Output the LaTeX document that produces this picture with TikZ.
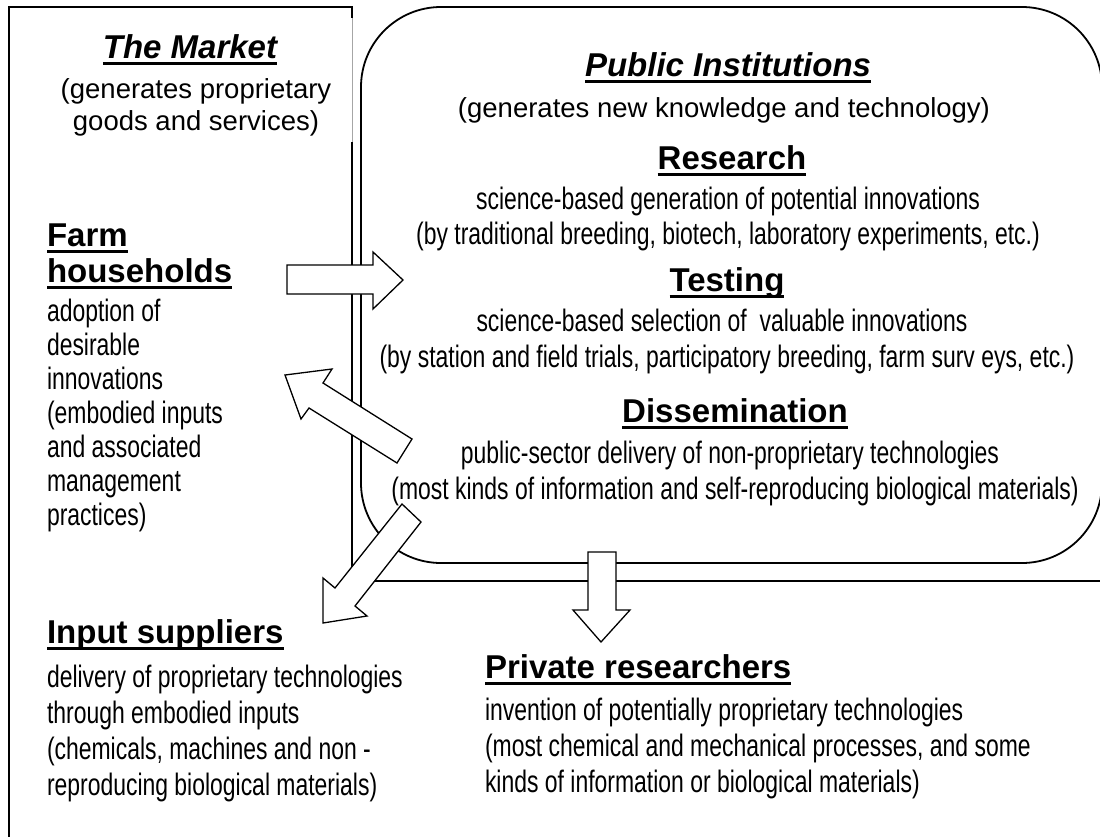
\documentclass[tikz,border=0pt]{standalone}
\usepackage{fontspec}
\setmainfont{Liberation Sans}
\newfontfamily\narrowfont[FakeStretch=0.74]{Liberation Sans}
\tikzset{
  frame/.style={line width=1.8pt},
  thinframe/.style={line width=0.6pt, gray!70},
  blockarrow/.style={draw=black, fill=white, line width=1.3pt, line join=miter},
  txt/.style={inner sep=0pt, outer sep=0pt, anchor=base},
  txtl/.style={inner sep=0pt, outer sep=0pt, anchor=base west},
  body/.style={font=\fontsize{27.5}{33}\selectfont},
  narrow/.style={font=\narrowfont\fontsize{31}{36}\selectfont},
  head/.style={font=\bfseries\fontsize{33}{38}\selectfont},
  ihead/.style={font=\bfseries\itshape\fontsize{33}{38}\selectfont},
  ul/.style={line width=3pt},
}
\newcommand{\ulnode}[1]{\draw[ul] ([yshift=-5pt]#1.base west) -- ([yshift=-5pt]#1.base east);}
\begin{document}
\begin{tikzpicture}[x=1pt,y=-1pt]
\useasboundingbox (0,0) rectangle (1100,836);
\begin{scope}
\clip (0,0) rectangle (1100,836);
% market frame
\coordinate (mTL) at (9,7);
\coordinate (mTR) at (352,7);
\coordinate (mK) at (352,18);
\coordinate (mBL) at (9,850);
\coordinate (mG) at (352,142);
\coordinate (mC) at (352,581);
\coordinate (mR) at (1110,581);
\draw[frame] (mBL) -- (mTL) -- (mTR) -- (mK);
\draw[thinframe] (mK) -- (mG);
\draw[frame] (mG) -- (mC) -- (mR);
% public institutions rounded box
\draw[frame, rounded corners=80pt] (361,7) rectangle (1102,563);
\end{scope}

% arrows
\draw[blockarrow] (287,265) -- (373,265) -- (373,252) -- (403,280) -- (373,309) -- (373,294) -- (287,294) -- cycle;
\draw[blockarrow] (412,439) -- (323,383) -- (332,369) -- (285,375) -- (301,419) -- (309,408) -- (397,463) -- cycle;
\draw[blockarrow] (402,504) -- (335,588) -- (323,578) -- (323,623) -- (367,616) -- (355,606) -- (421,522) -- cycle;
\draw[blockarrow] (588,552) -- (588,610) -- (573,610) -- (601,642) -- (630,610) -- (616,610) -- (616,552) -- cycle;

% The Market
\node[txt, ihead] (mkt) at (190,58) {The Market};
\ulnode{mkt}
\node[txt, body] (mkt1) at (196,98) {(generates proprietary};
\node[txt, body] (mkt2) at (196,130) {goods and services)};

% Farm households
\node[txtl, head] (farm) at (47,246) {Farm};
\ulnode{farm}
\node[txtl, head] (hh) at (47,282) {households};
\ulnode{hh}
\node[txtl, narrow] (f1) at (47,321) {adoption of};
\node[txtl, narrow] (f2) at (47,355) {desirable};
\node[txtl, narrow] (f3) at (47,389) {innovations};
\node[txtl, narrow] (f4) at (47,423) {(embodied inputs};
\node[txtl, narrow] (f5) at (47,457) {and associated};
\node[txtl, narrow] (f6) at (47,491) {management};
\node[txtl, narrow] (f7) at (47,525) {practices)};

% Input suppliers
\node[txtl, head] (inp) at (47,643) {Input suppliers};
\ulnode{inp}
\node[txtl, narrow] (i1) at (47,687) {delivery of proprietary technologies};
\node[txtl, narrow] (i2) at (47,723) {through embodied inputs};
\node[txtl, narrow] (i3) at (47,759) {(chemicals, machines and non -};
\node[txtl, narrow] (i4) at (47,795) {reproducing biological materials)};

% Public Institutions
\node[txt, ihead] (pub) at (728,76) {Public Institutions};
\ulnode{pub}
\node[txt, body] (pub1) at (724,117) {(generates new knowledge and technology)};

\node[txt, head] (res) at (732,169) {Research};
\ulnode{res}
\node[txt, narrow] (r1) at (728,209) {science-based generation of potential innovations};
\node[txt, narrow] (r2) at (728,244) {(by traditional breeding, biotech, laboratory experiments, etc.)};

\node[txt, head] (tst) at (727,291) {Testing};
\ulnode{tst}
\node[txt, narrow] (t1) at (722,331) {science-based selection of \ valuable innovations};
\node[txt, narrow] (t2) at (727,367) {(by station and field trials, participatory breeding, farm surv eys, etc.)};

\node[txt, head] (dis) at (735,422) {Dissemination};
\ulnode{dis}
\node[txt, narrow] (d1) at (730,463) {public-sector delivery of non-proprietary technologies};
\node[txt, narrow] (d2) at (735,499) {(most kinds of information and self-reproducing biological materials)};

% Private researchers
\node[txtl, head] (prv) at (485,678) {Private researchers};
\ulnode{prv}
\node[txtl, narrow] (p1) at (485,720) {invention of potentially proprietary technologies};
\node[txtl, narrow] (p2) at (485,756) {(most chemical and mechanical processes, and some};
\node[txtl, narrow] (p3) at (485,792) {kinds of information or biological materials)};
\end{tikzpicture}
\end{document}
